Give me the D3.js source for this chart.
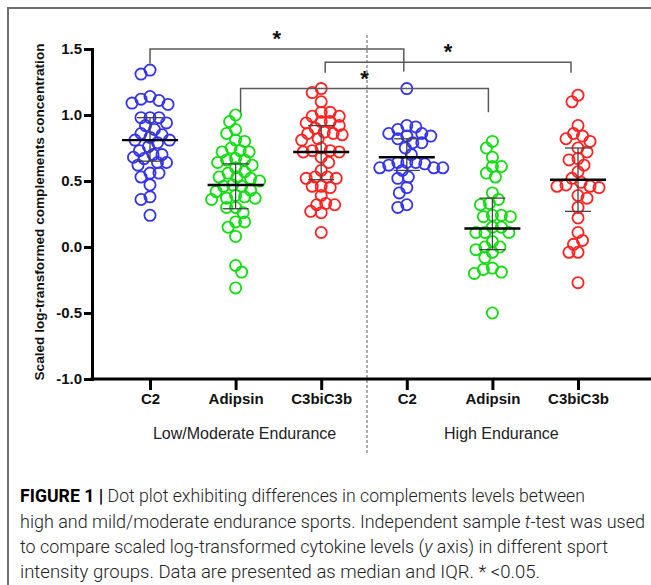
<!DOCTYPE html>
<html>
<head>
<meta charset="utf-8">
<script src="https://cdn.jsdelivr.net/npm/d3@7"></script>
<style>
  html, body { margin: 0; padding: 0; background: #fff; }
  svg { display: block; }
</style>
</head>
<body>
<svg id="chart" width="651" height="585"></svg>
<script>
// ---------------- data ----------------
const categories = ["C2", "Adipsin", "C3biC3b", "C2 ", "Adipsin ", "C3biC3b "];
const groupLabels = ["Low/Moderate Endurance", "High Endurance"];
const yTicks = [-1.0, -0.5, 0.0, 0.5, 1.0, 1.5];

const c2Low = [1.34, 1.31, 1.14, 1.12, 1.11, 1.09, 1.08, 0.98, 0.98, 0.98, 0.94, 0.92, 0.89, 0.86, 0.85, 0.83, 0.81, 0.81, 0.79, 0.76, 0.73, 0.70, 0.70, 0.68, 0.67, 0.64, 0.64, 0.62, 0.56, 0.56, 0.53, 0.47, 0.38, 0.36, 0.24];
const adipsinLow = [1.00, 0.95, 0.89, 0.86, 0.81, 0.80, 0.75, 0.73, 0.72, 0.72, 0.67, 0.66, 0.66, 0.64, 0.62, 0.60, 0.57, 0.56, 0.53, 0.53, 0.52, 0.50, 0.47, 0.46, 0.46, 0.43, 0.42, 0.39, 0.38, 0.37, 0.37, 0.36, 0.30, 0.30, 0.26, 0.19, 0.19, 0.15, 0.08, -0.14, -0.19, -0.31];
const c3Low = [1.20, 1.17, 1.10, 1.02, 1.02, 0.99, 0.99, 0.95, 0.95, 0.94, 0.92, 0.90, 0.87, 0.86, 0.86, 0.85, 0.82, 0.81, 0.75, 0.73, 0.73, 0.72, 0.72, 0.68, 0.64, 0.58, 0.53, 0.53, 0.52, 0.52, 0.46, 0.46, 0.45, 0.39, 0.33, 0.32, 0.32, 0.27, 0.26, 0.11];
const c2High = [1.20, 0.92, 0.91, 0.89, 0.86, 0.86, 0.84, 0.84, 0.82, 0.79, 0.79, 0.75, 0.70, 0.64, 0.64, 0.64, 0.63, 0.62, 0.60, 0.60, 0.60, 0.58, 0.53, 0.52, 0.45, 0.41, 0.32, 0.30];
const adipsinHigh = [0.80, 0.75, 0.68, 0.61, 0.61, 0.56, 0.53, 0.41, 0.36, 0.33, 0.32, 0.24, 0.24, 0.23, 0.23, 0.15, 0.15, 0.11, 0.11, 0.11, 0.04, 0.00, 0.00, -0.02, -0.04, -0.08, -0.16, -0.17, -0.19, -0.20, -0.50];
const c3High = [1.15, 1.10, 0.92, 0.86, 0.84, 0.82, 0.80, 0.75, 0.72, 0.67, 0.66, 0.62, 0.57, 0.52, 0.49, 0.47, 0.46, 0.46, 0.45, 0.39, 0.37, 0.30, 0.22, 0.11, 0.05, 0.02, -0.04, -0.04, -0.27];

const medians = [0.81, 0.47, 0.72, 0.68, 0.14, 0.51];
const q1s = [0.65, 0.29, 0.51, 0.58, -0.02, 0.27];
const q3s = [0.98, 0.63, 0.92, 0.82, 0.37, 0.75];

// significance brackets: [from category index, to category index, bar level, left leg end, right leg end]
const brackets = [
  [0, 3, 1.50, 1.39, 1.33],
  [2, 5, 1.40, 1.32, 1.32],
  [1, 4, 1.20, 1.02, 1.02]
];

const captionLines = [
  [{t: "FIGURE 1 |", b: true}, {t: " Dot plot exhibiting differences in complements levels between"}],
  [{t: "high and mild/moderate endurance sports. Independent sample "}, {t: "t", i: true}, {t: "-test was used"}],
  [{t: "to compare scaled log-transformed cytokine levels ("}, {t: "y", i: true}, {t: " axis) in different sport"}],
  [{t: "intensity groups. Data are presented as median and IQR. * <0.05."}]
];

// ---------------- chart ----------------
const series = [c2Low, adipsinLow, c3Low, c2High, adipsinHigh, c3High];
const colors = ["#3333ee", "#11dd11", "#ff2222", "#3333ee", "#11dd11", "#ff2222"];

const W = 651, H = 585;
const svg = d3.select("#chart");
const axisFont = "'Liberation Sans', Arial, sans-serif";

// frame
svg.append("path")
  .attr("d", `M8,${H} V8 H${W}`)
  .attr("fill", "none").attr("stroke", "#6e6e6e").attr("stroke-width", 2);

const y = d3.scaleLinear().domain([-1, 1.5]).range([379, 49]);
const x = d3.scalePoint().domain(categories).range([150, 578]);
const yAxisX = 92;

// dashed divider
const divX = (x(categories[2]) + x(categories[3])) / 2 + 3;
svg.append("line")
  .attr("x1", divX).attr("x2", divX).attr("y1", 35).attr("y2", 455)
  .attr("stroke", "#777").attr("stroke-width", 1.2).attr("stroke-dasharray", "3,2");

// y axis
const gy = svg.append("g")
  .attr("transform", `translate(${yAxisX},0)`)
  .call(d3.axisLeft(y).tickValues(yTicks).tickFormat(d => d.toFixed(1)).tickSize(8).tickSizeOuter(0).tickPadding(2));
gy.selectAll("path, line").attr("stroke", "#000").attr("stroke-width", 3);
gy.select(".domain").attr("stroke-linecap", "square");
gy.selectAll("text").attr("font-family", axisFont).attr("font-weight", "bold").attr("font-size", 15).attr("fill", "#111");

// x axis line
svg.append("line")
  .attr("x1", yAxisX - 1.5).attr("x2", W).attr("y1", y(-1)).attr("y2", y(-1))
  .attr("stroke", "#000").attr("stroke-width", 3);

const gx = svg.append("g")
  .attr("transform", `translate(0,${y(-1)})`)
  .call(d3.axisBottom(x).tickSize(11).tickPadding(3));
gx.select(".domain").remove();
gx.selectAll("line").attr("stroke", "#000").attr("stroke-width", 3);
gx.selectAll("text").attr("font-family", axisFont).attr("font-weight", "bold").attr("font-size", 15).attr("fill", "#111");

// group labels
[[0, 2], [3, 5]].forEach((g, i) => {
  const cx = (x(categories[g[0]]) + x(categories[g[1]])) / 2 + 9;
  svg.append("text")
    .attr("x", cx).attr("y", 439)
    .attr("text-anchor", "middle")
    .attr("font-family", axisFont).attr("font-size", 16).attr("fill", "#222")
    .text(groupLabels[i]);
});

// y axis title
svg.append("text")
  .attr("transform", "translate(44,212) rotate(-90)")
  .attr("text-anchor", "middle")
  .attr("font-family", axisFont).attr("font-weight", "bold").attr("font-size", 13).attr("fill", "#111")
  .attr("textLength", 337).attr("lengthAdjust", "spacingAndGlyphs")
  .text("Scaled log-transformed complements concentration");

// beeswarm layout
const R = 5.6;
function swarm(values, cx) {
  const pts = values.map(v => ({ v, y: y(v) })).sort((a, b) => a.y - b.y);
  const placed = [];
  const minD = 8.8, step = 1.5;
  pts.forEach((p, idx) => {
    for (let k = 0; k < 80; k++) {
      const sgn = ((k + idx) % 2) ? 1 : -1;
      const off = k === 0 ? 0 : sgn * Math.ceil(k / 2) * step;
      const px = cx + off;
      if (placed.every(q => (q.x - px) ** 2 + (q.y - p.y) ** 2 >= minD * minD)) {
        p.x = px; break;
      }
    }
    if (p.x === undefined) p.x = cx;
    placed.push(p);
  });
  return placed;
}

series.forEach((vals, i) => {
  const cx = x(categories[i]);
  const pts = swarm(vals, cx);
  svg.append("g").selectAll("circle").data(pts).join("circle")
    .attr("cx", d => d.x).attr("cy", d => d.y).attr("r", R)
    .attr("fill", "none").attr("stroke", colors[i]).attr("stroke-width", 1.8);
});

// median & IQR
categories.forEach((c, i) => {
  const cx = x(c);
  const g = svg.append("g");
  g.append("line").attr("x1", cx).attr("x2", cx).attr("y1", y(q3s[i])).attr("y2", y(q1s[i]))
    .attr("stroke", "#444").attr("stroke-width", 1.3);
  [q1s[i], q3s[i]].forEach(q => {
    g.append("line").attr("x1", cx - 13).attr("x2", cx + 13).attr("y1", y(q)).attr("y2", y(q))
      .attr("stroke", "#444").attr("stroke-width", 1.3);
  });
  g.append("line").attr("x1", cx - 28).attr("x2", cx + 28).attr("y1", y(medians[i])).attr("y2", y(medians[i]))
    .attr("stroke", "#000").attr("stroke-width", 2.4);
});

// brackets
const insets = [[0, -3], [4, -7], [5, -4]];
brackets.forEach((b, i) => {
  const x1 = x(categories[b[0]]) + insets[i][0];
  const x2 = x(categories[b[1]]) + insets[i][1];
  svg.append("path")
    .attr("d", `M${x1},${y(b[3])} V${y(b[2])} H${x2} V${y(b[4])}`)
    .attr("fill", "none").attr("stroke", "#5a5a5a").attr("stroke-width", 1.5);
  svg.append("text")
    .attr("x", (x1 + x2) / 2).attr("y", y(b[2]) - 3)
    .attr("text-anchor", "middle")
    .attr("font-family", axisFont).attr("font-weight", "bold").attr("font-size", 22).attr("fill", "#111")
    .text("*");
});

// caption
const capWidths = [565, 625, 588, 520];
const capBase = [502, 527.5, 553, 578];
captionLines.forEach((parts, i) => {
  const t = svg.append("text")
    .attr("x", 20).attr("y", capBase[i])
    .attr("font-family", "'Liberation Sans Narrow', 'Roboto', 'Liberation Sans', sans-serif")
    .attr("font-weight", 300)
    .attr("font-size", 17.5).attr("fill", "#222")
    .attr("textLength", capWidths[i]).attr("lengthAdjust", "spacingAndGlyphs");
  parts.forEach(p => {
    const s = t.append("tspan").text(p.t);
    if (p.b) s.attr("font-weight", "bold").attr("fill", "#000");
    if (p.i) s.attr("font-style", "italic");
  });
});
</script>
</body>
</html>
